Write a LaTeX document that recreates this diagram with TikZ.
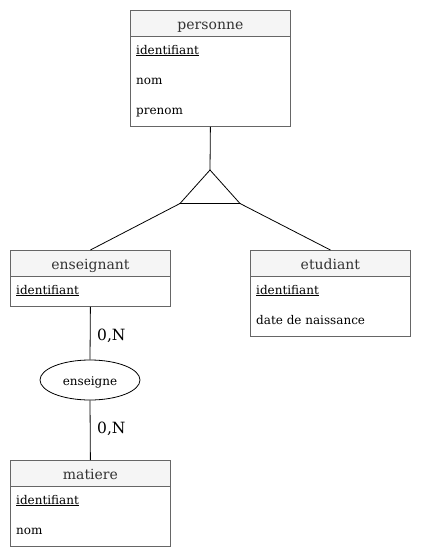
\documentclass[tikz,border=0pt]{standalone}
\usepackage{fontspec}
\setmainfont{DejaVu Serif}
\usetikzlibrary{shapes.geometric}
\definecolor{boxline}{HTML}{666666}
\definecolor{headfill}{HTML}{F5F5F5}
\definecolor{headtext}{HTML}{333333}
\tikzset{
  entbody/.style={draw=boxline, fill=white, anchor=north west, minimum width=160pt, inner sep=0pt, line width=0.8pt},
  enthead/.style={draw=boxline, fill=headfill, anchor=north west, minimum width=160pt, minimum height=26pt, inner sep=0pt, text=headtext, text height=12pt, text depth=0pt, font=\fontsize{14}{16}\selectfont, line width=0.8pt},
  attr/.style={anchor=base west, inner sep=0pt, font=\fontsize{12}{14}\selectfont},
  rel/.style={draw, ellipse, minimum width=100pt, minimum height=40pt, inner sep=0pt, text height=10pt, text depth=0pt, font=\fontsize{12}{14}\selectfont, line width=0.8pt},
  card/.style={anchor=base west, inner sep=0pt, font=\fontsize{15.5}{18}\selectfont},
  link/.style={draw, line width=0.8pt}
}
\begin{document}
\begin{tikzpicture}[x=1pt,y=-1pt]
\useasboundingbox (0,0) rectangle (421,560);
% personne
\node[entbody, minimum height=116pt] (pers) at (130,10) {};
\node[enthead] (persh) at (130,10) {personne};
\node[attr] (pers1) at (136,54) {\underline{identifiant}};
\node[attr] (pers2) at (136,84) {nom};
\node[attr] (pers3) at (136,114) {prenom};
% specialisation triangle
\coordinate (tritop) at (210,170);
\coordinate (trileft) at (180,203.5);
\coordinate (triright) at (240,203.5);
\draw[line width=0.8pt] (tritop) -- (trileft) -- (triright) -- cycle;
% enseignant
\node[entbody, minimum height=56pt] (ens) at (10,250) {};
\node[enthead] (ensh) at (10,250) {enseignant};
\node[attr] (ens1) at (16,294) {\underline{identifiant}};
% etudiant
\node[entbody, minimum height=86pt] (etu) at (250,250) {};
\node[enthead] (etuh) at (250,250) {etudiant};
\node[attr] (etu1) at (256,294) {\underline{identifiant}};
\node[attr] (etu2) at (256,324) {date de naissance};
% relation
\node[rel] (rel) at (90,380) {enseigne};
% matiere
\node[entbody, minimum height=86pt] (mat) at (10,460) {};
\node[enthead] (math) at (10,460) {matiere};
\node[attr] (mat1) at (16,504) {\underline{identifiant}};
\node[attr] (mat2) at (16,534) {nom};
% connectors
\draw[link] (pers.south) -- (tritop);
\draw[link] (trileft) -- (ensh.north);
\draw[link] (triright) -- (etuh.north);
\draw[link] (ens.south) -- (rel.north);
\draw[link] (rel.south) -- (math.north);
\node[card] (c1) at (97,340.5) {0,N};
\node[card] (c2) at (97,433.5) {0,N};
\end{tikzpicture}
\end{document}
